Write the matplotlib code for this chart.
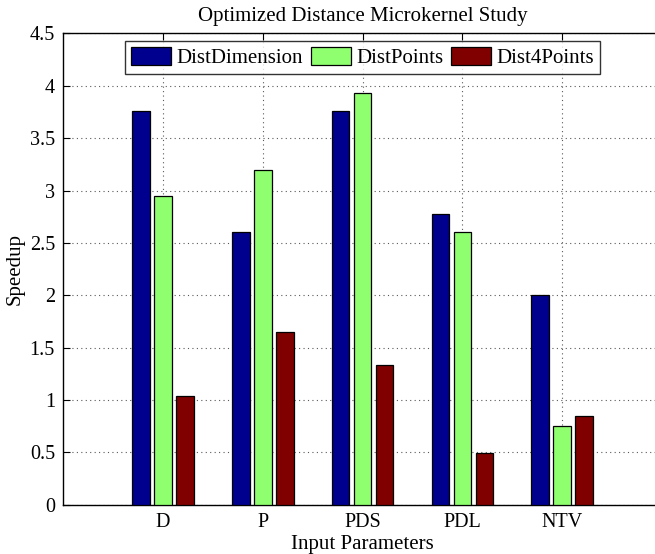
import numpy as np
import matplotlib
matplotlib.use("Agg")
import matplotlib.pyplot as plt

categories = ["D", "P", "PDS", "PDL", "NTV"]
dist_dimension = [3.76, 2.60, 3.76, 2.78, 2.00]
dist_points = [2.95, 3.20, 3.93, 2.60, 0.75]
dist_4points = [1.04, 1.65, 1.33, 0.49, 0.85]
series_names = ["DistDimension", "DistPoints", "Dist4Points"]
colors = [(0, 0, 0.5625), (0.5625, 1, 0.4375), (0.5, 0, 0)]

plt.rcParams["font.family"] = ["Liberation Serif", "DejaVu Serif"]

fig = plt.figure(figsize=(6.55, 5.54), dpi=100)
# right edge of the axes sits just past the image, as in the original crop
ax = fig.add_axes([0.0966, 0.089, 0.914, 0.8506])

x = np.arange(1, len(categories) + 1)
width = 0.176
offset = 0.22
for i, vals in enumerate([dist_dimension, dist_points, dist_4points]):
    ax.bar(x + (i - 1) * offset, vals, width, color=colors[i],
           edgecolor="black", linewidth=0.9, label=series_names[i], zorder=3)

ax.set_xlim(0, 6)
ax.set_ylim(0, 4.5)
ax.set_xticks(x)
ax.set_xticklabels(categories)
ax.set_yticks(np.arange(0, 4.51, 0.5))
ax.set_yticklabels(["0", "0.5", "1", "1.5", "2", "2.5", "3", "3.5", "4", "4.5"])
ax.tick_params(direction="in", top=True, right=True, labelsize=14.5, length=5, pad=6)
ax.grid(True, linestyle=(0, (1, 3)), color="0.35", linewidth=0.8, zorder=0)
ax.set_axisbelow(True)
for s in ax.spines.values():
    s.set_linewidth(1.0)

ax.set_title("Optimized Distance Microkernel Study", fontsize=15, pad=9)
ax.set_xlabel("Input Parameters", fontsize=15, labelpad=2)
ax.set_ylabel("Speedup", fontsize=15, labelpad=4)

leg = ax.legend(loc="upper center", bbox_to_anchor=(0.5, 1.0), ncol=3,
                fontsize=15, frameon=True, fancybox=False, edgecolor="black",
                handlelength=1.9, handleheight=0.95, handletextpad=0.25,
                columnspacing=0.4, borderpad=0.3, borderaxespad=0.35)
leg.get_frame().set_linewidth(1.0)

fig.savefig("out.png", dpi=100)
